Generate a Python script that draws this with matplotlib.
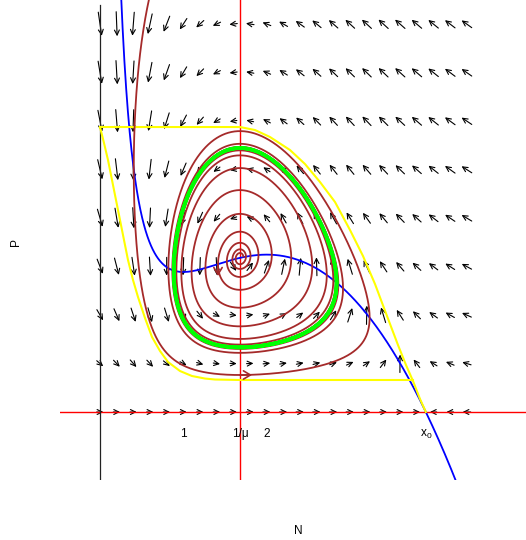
import numpy as np
import matplotlib
matplotlib.use('Agg')
import matplotlib.pyplot as plt

plt.rcParams['font.family'] = ['Liberation Sans', 'DejaVu Sans']

# ---------------- values ----------------
x0 = 3.91          # prey nullcline meets P = 0
inv_mu = 1.68      # predator nullcline N = 1/mu
A_coef = 1.0725    # prey nullcline P = A (x0-N)(N + b + c/N)
b_coef = -0.757
c_coef = 0.682
s_coef = 2.5       # predator response rate

grid_N = [0.0, 0.2, 0.4, 0.6, 0.8, 1.0, 1.2, 1.4, 1.6, 1.8, 2.0, 2.2,
          2.4, 2.6, 2.8, 3.0, 3.2, 3.4, 3.6, 3.8, 4.0, 4.2, 4.4]
grid_P = [0, 1, 2, 3, 4, 5, 6, 7, 8]

inner_start = (1.416, 3.05)
outer_start = (1.68, 0.763)

yellow_left_N = [0.0, 0.048, 0.096, 0.156, 0.216, 0.276, 0.336, 0.396, 0.456,
                 0.54, 0.624, 0.72, 0.816, 0.96, 1.104, 1.26, 1.38, 1.68, 3.756]
yellow_left_P = [5.876, 5.546, 5.196, 4.68, 4.165, 3.649, 3.134, 2.722, 2.371,
                 1.938, 1.546, 1.258, 1.031, 0.845, 0.742, 0.69, 0.67, 0.66, 0.66]
yellow_right_N = [0.0, 1.68, 1.86, 2.04, 2.28, 2.46, 2.64, 2.82, 3.0, 3.156,
                  3.30, 3.444, 3.576, 3.672, 3.756, 3.84, 3.91]
yellow_right_P = [5.876, 5.876, 5.814, 5.670, 5.402, 5.113, 4.742, 4.330, 3.753,
                  3.216, 2.639, 1.979, 1.381, 0.969, 0.639, 0.268, 0.0]

tick_N = [1.0, inv_mu, 2.0, x0]
tick_text = ['1', '1/\u03bc', '2', r'$\mathregular{x_0}$']

xlim = (-0.48, 5.112)
ylim = (-1.402, 8.495)

W, H = 526, 540
ax_left, ax_bottom, ax_w, ax_h = 60, 60, 466, 480
px_per_N = ax_w / (xlim[1] - xlim[0])
px_per_P = ax_h / (ylim[1] - ylim[0])


def field(N, P):
    dN = A_coef * (x0 - N) * (N * N + b_coef * N + c_coef) - P * N
    dP = s_coef * P * (N - inv_mu)
    return dN, dP


def integrate(N, P, T, dt=0.001):
    h = dt if T > 0 else -dt
    n = int(abs(T) / dt)
    Ns, Ps = [N], [P]
    for _ in range(n):
        k1 = field(N, P)
        k2 = field(N + h / 2 * k1[0], P + h / 2 * k1[1])
        k3 = field(N + h / 2 * k2[0], P + h / 2 * k2[1])
        k4 = field(N + h * k3[0], P + h * k3[1])
        N = N + h / 6 * (k1[0] + 2 * k2[0] + 2 * k3[0] + k4[0])
        P = P + h / 6 * (k1[1] + 2 * k2[1] + 2 * k3[1] + k4[1])
        Ns.append(N)
        Ps.append(P)
        if P > ylim[1] + 0.5 or P < -0.5 or N < -0.2 or N > 6:
            break
    return np.array(Ns), np.array(Ps)


fig = plt.figure(figsize=(W / 100, H / 100), dpi=100)
ax = fig.add_axes([ax_left / W, ax_bottom / H, ax_w / W, ax_h / H])
ax.set_xlim(*xlim)
ax.set_ylim(*ylim)
ax.axis('off')

# ---------------- direction field ----------------
Lx, Ly = 7.5, 20.0
for n in grid_N:
    for p in grid_P:
        dN, dP = field(n, p)
        vx, vy = dN * px_per_N, dP * px_per_P
        m = np.hypot(vx, vy)
        if m == 0:
            continue
        ux, uy = vx / m, vy / m
        L = 1.0 / np.sqrt((ux / Lx) ** 2 + (uy / Ly) ** 2)
        L *= np.clip((m / 500.0) ** 0.2, 0.9, 1.4)
        hx, hy = ux * L / 2 / px_per_N, uy * L / 2 / px_per_P
        ax.annotate('', xy=(n + hx, p + hy), xytext=(n - hx, p - hy),
                    arrowprops=dict(arrowstyle='->,head_length=0.45,head_width=0.22',
                                    color='black', lw=0.8, shrinkA=0, shrinkB=0,
                                    mutation_scale=8), zorder=2)

# ---------------- axes and nullclines ----------------
ax.axhline(0, color='red', lw=1.0, zorder=3)
ax.axvline(inv_mu, color='red', lw=1.0, zorder=3)
ax.plot([0, 0], [ylim[0], ylim[1] - 5 / px_per_P], color='#222222', lw=0.9, zorder=3)

Nn = np.linspace(0.25, 4.5, 400)
ax.plot(Nn, A_coef * (x0 - Nn) * (Nn + b_coef + c_coef / Nn), color='blue', lw=1.3, zorder=4)

# ---------------- trapping region ----------------
ax.plot(yellow_left_N, yellow_left_P, color='yellow', lw=1.5, zorder=4)
ax.plot(yellow_right_N, yellow_right_P, color='yellow', lw=1.5, zorder=4)

# ---------------- trajectories ----------------
brown = '#A52A2A'
for (sn, sp), Tf, Tb in [(inner_start, 16.0, -6.0), (outer_start, 14.0, -3.0)]:
    fN, fP = integrate(sn, sp, Tf)
    bN, bP = integrate(sn, sp, Tb)
    ax.plot(np.concatenate([bN[::-1], fN]), np.concatenate([bP[::-1], fP]),
            color=brown, lw=1.3, zorder=5)
    dN, dP = field(sn, sp)
    vx, vy = dN * px_per_N, dP * px_per_P
    m = np.hypot(vx, vy)
    ax.annotate('', xy=(sn + vx / m * 12 / px_per_N, sp + vy / m * 12 / px_per_P),
                xytext=(sn, sp),
                arrowprops=dict(arrowstyle='->,head_length=0.5,head_width=0.3',
                                color=brown, lw=1.2, shrinkA=0, shrinkB=0,
                                mutation_scale=10), zorder=6)

# limit cycle
cN, cP = integrate(inv_mu, 5.3, 40.0)
k = int(4.0 / 0.001)
ax.plot(cN[-k:], cP[-k:], color='#00FF00', lw=2.6, zorder=6)

# ---------------- labels ----------------
for t, lab in zip(tick_N, tick_text):
    ax.text(t, -0.454, lab, ha='center', va='center', fontsize=8.6)
fig.text(298 / W, 1 - 531 / H, 'N', ha='center', va='center', fontsize=8.6)
fig.text(16 / W, 1 - 242 / H, 'P', ha='center', va='center', fontsize=8.6, rotation=90)

fig.savefig('out.png', dpi=100)
